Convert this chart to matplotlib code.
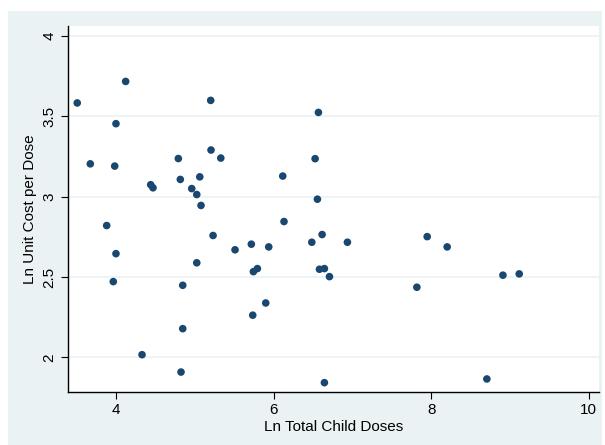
import matplotlib
matplotlib.use("Agg")
import matplotlib.pyplot as plt
from matplotlib.patches import Rectangle

# Ln total child doses / ln unit cost per dose
ln_doses = [3.504, 4.119, 5.199, 3.996, 3.670, 3.980, 5.203, 4.788, 5.327, 6.114,
            4.437, 4.466, 4.813, 5.060, 4.958, 5.022, 5.076, 6.130,
            6.567, 6.525, 6.554,
            3.878, 3.996, 3.962, 5.229, 5.508, 5.715, 5.936, 5.022, 5.741, 5.792,
            4.844, 5.898, 5.733, 4.844, 4.327, 4.822,
            6.483, 6.614, 6.935, 7.948, 8.202, 6.580, 6.643, 6.707, 7.817,
            8.910, 9.117, 6.643, 8.706]
ln_cost = [3.583, 3.717, 3.599, 3.454, 3.204, 3.190, 3.290, 3.237, 3.240, 3.128,
           3.074, 3.055, 3.107, 3.123, 3.050, 3.013, 2.945, 2.845,
           3.524, 3.236, 2.984,
           2.820, 2.645, 2.471, 2.758, 2.669, 2.704, 2.687, 2.588, 2.533, 2.552,
           2.448, 2.338, 2.262, 2.178, 2.016, 1.908,
           2.716, 2.764, 2.716, 2.751, 2.687, 2.548, 2.552, 2.502, 2.436,
           2.511, 2.519, 1.842, 1.865]

xticks = [4, 6, 8, 10]
yticks = [2, 2.5, 3, 3.5, 4]
ytick_labels = ["2", "2.5", "3", "3.5", "4"]

plt.rcParams['font.family'] = ['Liberation Sans', 'DejaVu Sans']

W, H = 605, 445
fig = plt.figure(figsize=(W / 100, H / 100), dpi=100)
fig.patch.set_facecolor("white")
# outer light blue-gray graph region
fig.patches.append(Rectangle((8 / W, 0), (601.5 - 8) / W, (H - 11) / H,
                             transform=fig.transFigure, facecolor="#eaf2f3",
                             edgecolor="none", zorder=-10))

ax = fig.add_axes([67.7 / W, (H - 392.3) / H, (599 - 67.7) / W, (392.3 - 26) / H])
ax.set_zorder(1)
ax.set_facecolor("white")
ax.scatter(ln_doses, ln_cost, s=30, color="#1a476f", edgecolors="none", zorder=3)

ax.set_xlim(3.383, 10.13)
ax.set_ylim(1.782, 4.062)
ax.set_xticks(xticks)
ax.set_yticks(yticks)
ax.set_yticklabels(ytick_labels, rotation=90, va="center")
ax.yaxis.grid(True, color="#eaf2f3", linewidth=1.2, zorder=0)
ax.set_axisbelow(True)

for s in ["top", "right"]:
    ax.spines[s].set_visible(False)
for s in ["left", "bottom"]:
    ax.spines[s].set_color("black")
    ax.spines[s].set_linewidth(1.0)
ax.tick_params(direction="out", length=5, width=0.8, labelsize=11, pad=3)

ax.set_xlabel("Ln Total Child Doses", fontsize=11, labelpad=2)
ax.set_ylabel("Ln Unit Cost per Dose", fontsize=11, labelpad=4)

fig.savefig("out.png", dpi=100)
